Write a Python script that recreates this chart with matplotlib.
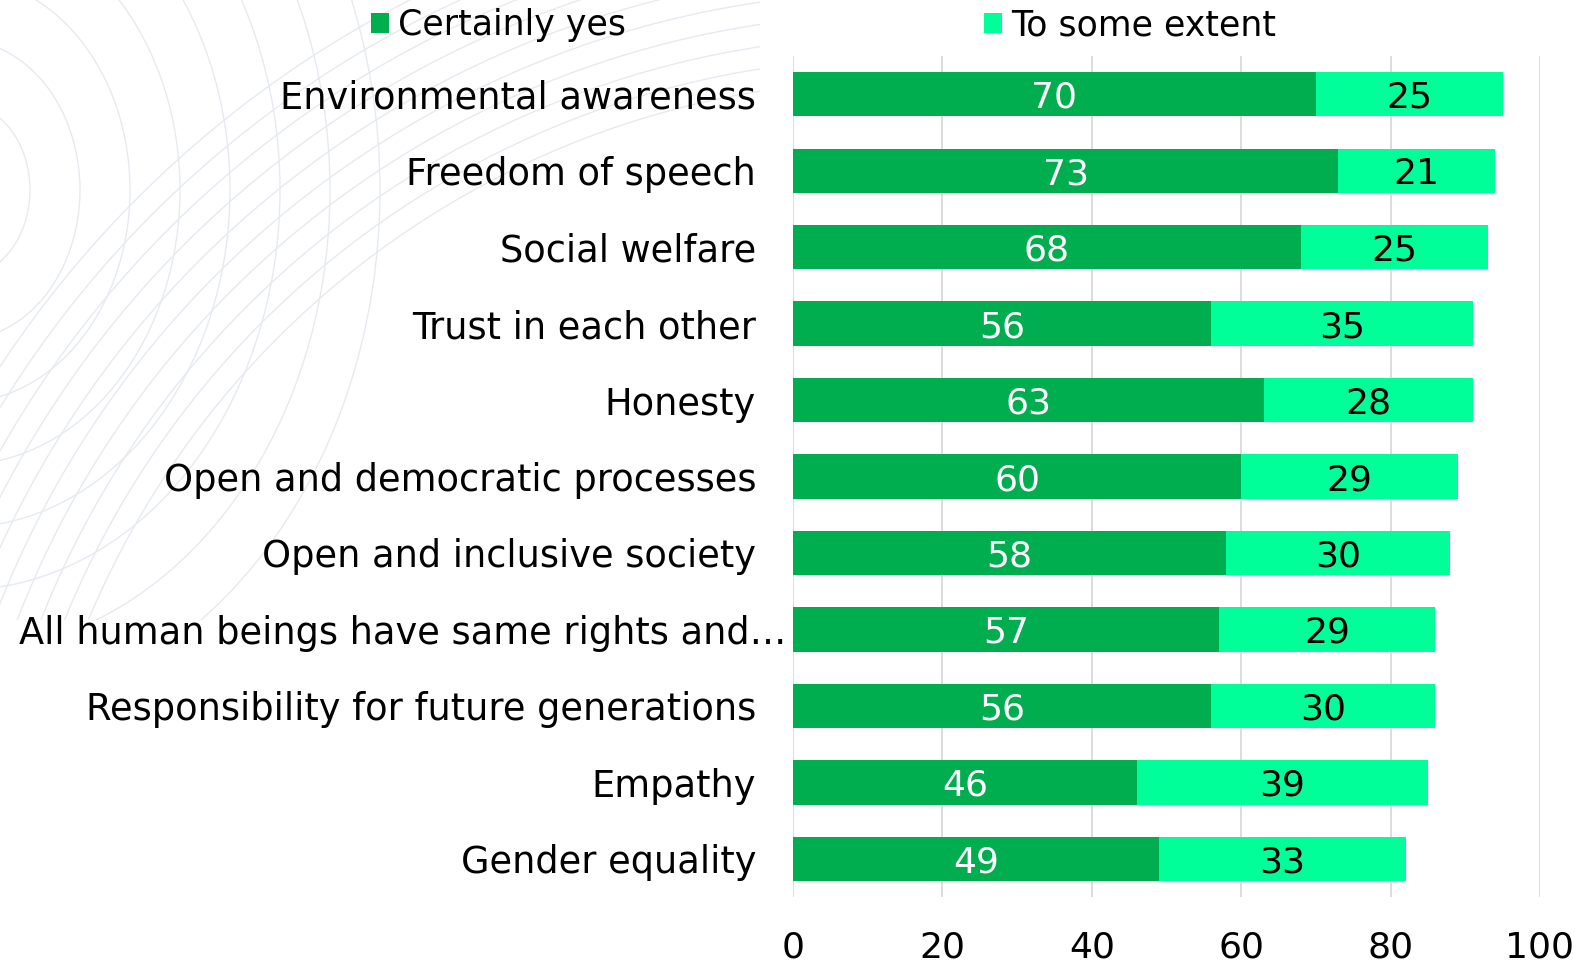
import numpy as np
import matplotlib
matplotlib.use("Agg")
import matplotlib.pyplot as plt
from matplotlib.patches import Patch, Ellipse, Circle
from matplotlib.transforms import ScaledTranslation

categories = [
    "Environmental awareness",
    "Freedom of speech",
    "Social welfare",
    "Trust in each other",
    "Honesty",
    "Open and democratic processes",
    "Open and inclusive society",
    "All human beings have same rights and\u2026",
    "Responsibility for future generations",
    "Empathy",
    "Gender equality",
]
certainly_yes = [70, 73, 68, 56, 63, 60, 58, 57, 56, 46, 49]
some_extent = [25, 21, 25, 35, 28, 29, 30, 29, 30, 39, 33]
series_names = ["Certainly yes", "To some extent"]
x_ticks = [0, 20, 40, 60, 80, 100]

dark_green = "#00AD4F"
light_green = "#00FF99"

W, H = 1585, 963
fig = plt.figure(figsize=(W / 100, H / 100), dpi=100)

# faint watermark arcs in the upper-left corner
bg = fig.add_axes([0, 0, 1, 1], zorder=-5)
bg.set_xlim(0, W)
bg.set_ylim(H, 0)
bg.axis("off")
clip = plt.Rectangle((0, 0), 760, 620, transform=bg.transData)
arc_col = "#E6EAF0"
for k in range(8):
    a = 70 + 50 * k
    e = Ellipse((-40, 190), 2 * a, 2 * a * 1.25, fill=False,
                edgecolor=arc_col, lw=1.0)
    bg.add_patch(e)
    e.set_clip_path(clip)
for k in range(10):
    r = 880 + 22 * k
    c = Circle((900, 960), r, fill=False, edgecolor=arc_col, lw=1.0)
    bg.add_patch(c)
    c.set_clip_path(clip)

ax = fig.add_axes([0.5003, 0.0685, 0.4713, 0.8733])
ax.patch.set_alpha(0)
y = np.arange(len(categories))
bar_h = 0.58
ax.barh(y, certainly_yes, height=bar_h, color=dark_green, zorder=2)
ax.barh(y, some_extent, left=certainly_yes, height=bar_h,
        color=light_green, zorder=2)

for yi, v1, v2 in zip(y, certainly_yes, some_extent):
    ax.text(v1 / 2, yi, str(v1), ha="center", va="center_baseline",
            color="white", fontsize=26, zorder=3)
    ax.text(v1 + v2 / 2, yi, str(v2), ha="center", va="center_baseline",
            color="black", fontsize=26, zorder=3)

ax.set_xlim(0, 100)
ax.set_ylim(len(categories) - 0.5, -0.5)
ax.set_xticks(x_ticks)
ax.set_yticks(y)
ax.set_yticklabels(categories)
ax.tick_params(axis="y", length=0, pad=26.6, labelsize=26.5)
ax.tick_params(axis="x", length=0, pad=24, labelsize=26)
ax.grid(axis="x", color="#D9D9D9", lw=1.3, zorder=0)
ax.set_axisbelow(True)
for s in ax.spines.values():
    s.set_visible(False)

# the long truncated label sticks out to the right in the original
long_lab = ax.get_yticklabels()[7]
long_lab.set_transform(long_lab.get_transform() +
                       ScaledTranslation(22 / 72, 0, fig.dpi_scale_trans))

handles = [Patch(facecolor=dark_green), Patch(facecolor=light_green)]
fig.legend(handles, series_names, loc="center", bbox_to_anchor=(0.5196, 0.974),
           ncol=2, frameon=False, fontsize=25, handlelength=0.53,
           handleheight=0.53, handletextpad=0.26, columnspacing=10.3)

fig.savefig("out.png", dpi=100)
